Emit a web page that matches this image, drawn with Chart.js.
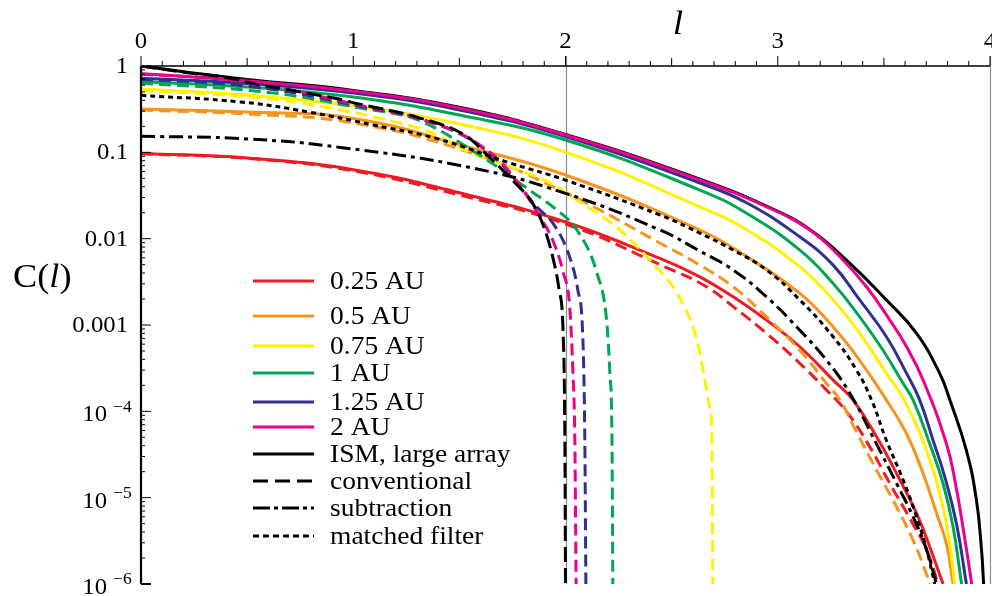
<!DOCTYPE html>
<html lang="en">
<head>
  <meta charset="UTF-8">
  <title>C(l) curves</title>
  <script src="https://cdn.jsdelivr.net/npm/chart.js"></script>
  <style>
    body { margin: 0; background: #fff; }
    canvas { display: block; }
  </style>
</head>
<body>
  <canvas id="curveChart" width="992" height="596"></canvas>

  <script>
    // axis ticks
    const xTicks = [0, 1, 2, 3, 4];
    const yTicks = [1, 0.1, 0.01, 0.001, 1e-4, 1e-5, 1e-6];
    const yTickLabels = ['1', '0.1', '0.01', '0.001', '10|−4', '10|−5', '10|−6'];
    const gridAt = [2, 4];

    // series, pairs of [l, C(l)]
    const ismLarge = [[0, 1.0], [0.2, 0.86], [0.5, 0.70], [1.0, 0.522], [1.5, 0.332], [2.0, 0.161], [2.633, 0.049], [2.947, 0.0238], [3.151, 0.0128], [3.34, 0.00518], [3.512, 0.00195], [3.654, 8.0e-4], [3.763, 2.75e-4], [3.811, 1.35e-4], [3.889, 3.5e-5], [3.936, 9.4e-6], [3.96, 2.5e-6], [3.97, 1e-6]];

    const au025 = [[0, 0.097], [0.5, 0.086], [1.0, 0.063], [1.5, 0.034], [2.0, 0.0156], [2.445, 0.0059], [2.633, 0.00361], [2.79, 0.00212], [2.947, 0.00114], [3.104, 5.6e-4], [3.261, 2.3e-4], [3.355, 1.35e-4], [3.465, 5.1e-5], [3.56, 1.9e-5], [3.654, 6.6e-6], [3.716, 2.7e-6], [3.779, 1e-6]];
    const au05 = [[0, 0.318], [0.5, 0.293], [1.0, 0.247], [1.56, 0.112], [2.0, 0.0546], [2.633, 0.0126], [2.855, 0.00617], [3.104, 0.00232], [3.261, 9.5e-4], [3.386, 3.9e-4], [3.512, 1.35e-4], [3.607, 5.5e-5], [3.685, 1.9e-5], [3.748, 6.6e-6], [3.795, 2.9e-6], [3.826, 1e-6]];
    const au075 = [[0, 0.54], [0.5, 0.461], [1.0, 0.344], [1.5, 0.213], [2.0, 0.1007], [2.633, 0.0234], [2.855, 0.0126], [3.104, 0.00472], [3.261, 0.00195], [3.386, 8.0e-4], [3.512, 2.75e-4], [3.596, 1.35e-4], [3.701, 3.5e-5], [3.763, 1.12e-5], [3.803, 3.85e-6], [3.834, 1e-6]];
    const au1 = [[0, 0.66], [0.5, 0.571], [1.0, 0.437], [1.5, 0.27], [2.0, 0.139], [2.633, 0.0366], [2.855, 0.0196], [3.104, 0.00738], [3.261, 0.00303], [3.386, 0.00124], [3.496, 5.1e-4], [3.591, 2.1e-4], [3.638, 1.35e-4], [3.716, 4.2e-5], [3.779, 1.46e-5], [3.826, 4.6e-6], [3.866, 1e-6]];
    const au125 = [[0, 0.72], [0.5, 0.627], [1.0, 0.486], [1.5, 0.31], [2.0, 0.152], [2.633, 0.0441], [2.855, 0.0259], [3.104, 0.0105], [3.261, 0.00494], [3.386, 0.00195], [3.512, 7.3e-4], [3.607, 2.75e-4], [3.669, 1.35e-4], [3.732, 4.6e-5], [3.787, 1.74e-5], [3.842, 5.0e-6], [3.889, 1e-6]];
    const au2 = [[0, 0.82], [0.5, 0.67], [1.0, 0.513], [1.5, 0.326], [2.0, 0.159], [2.633, 0.0478], [2.947, 0.0234], [3.151, 0.0126], [3.293, 0.00617], [3.418, 0.00277], [3.528, 0.00114], [3.607, 5.6e-4], [3.685, 2.3e-4], [3.795, 4.2e-5], [3.837, 1.47e-5], [3.877, 3.9e-6], [3.914, 1e-6]];

    const conv025 = [[0, 0.096], [0.5, 0.085], [1.0, 0.061], [1.5, 0.032], [2.0, 0.0148], [2.468, 0.00472], [2.665, 0.00277], [2.79, 0.00163], [2.947, 8.0e-4], [3.104, 3.6e-4], [3.23, 1.76e-4], [3.33, 9.5e-5], [3.433, 3.9e-5], [3.528, 1.46e-5], [3.618, 6.0e-6], [3.701, 2.5e-6], [3.755, 1e-6]];
    const conv05 = [[0, 0.309], [0.5, 0.278], [1.0, 0.219], [1.56, 0.098], [2.0, 0.034], [2.48, 0.008], [2.633, 0.00494], [2.79, 0.00277], [2.947, 0.00124], [3.104, 5.1e-4], [3.23, 2.1e-4], [3.293, 1.35e-4], [3.375, 5.5e-5], [3.465, 2.1e-5], [3.56, 7.8e-6], [3.638, 3.2e-6], [3.701, 1.3e-6], [3.716, 1e-6]];
    const conv075 = [[0, 0.52], [0.4, 0.46], [0.7, 0.39], [1.0, 0.29], [1.1, 0.256], [1.36, 0.172], [1.55, 0.10], [1.74, 0.0676], [1.93, 0.044], [2.054, 0.028], [2.256, 0.0126], [2.41, 0.0052], [2.525, 0.00234], [2.619, 6.7e-4], [2.68, 1.1e-4], [2.69, 4.7e-5], [2.694, 1e-6]];
    const conv1 = [[0, 0.63], [0.4, 0.55], [0.7, 0.46], [1.02, 0.33], [1.3, 0.24], [1.61, 0.088], [1.83, 0.0366], [1.96, 0.0214], [2.054, 0.0126], [2.148, 0.004], [2.195, 0.00105], [2.209, 2.8e-4], [2.219, 4.7e-5], [2.223, 1e-6]];
    const conv125 = [[0, 0.70], [0.4, 0.62], [0.7, 0.50], [1.02, 0.345], [1.3, 0.25], [1.55, 0.142], [1.7, 0.072], [1.865, 0.0232], [1.94, 0.0152], [2.02, 0.0061], [2.058, 0.00254], [2.082, 6.7e-4], [2.091, 4.7e-5], [2.096, 1e-6]];
    const conv2 = [[0, 0.80], [0.4, 0.70], [0.7, 0.53], [1.02, 0.355], [1.3, 0.25], [1.55, 0.143], [1.7, 0.075], [1.81, 0.0337], [1.88, 0.0178], [1.94, 0.0096], [1.99, 0.004], [2.02, 0.0016], [2.035, 2.8e-4], [2.044, 4.7e-5], [2.05, 1e-6]];
    const convBlack = [[0, 1.0], [0.22, 0.836], [0.415, 0.726], [0.555, 0.608], [0.683, 0.537], [0.81, 0.47], [0.91, 0.426], [1.02, 0.366], [1.3, 0.256], [1.54, 0.15], [1.64, 0.0883], [1.75, 0.0477], [1.85, 0.0245], [1.9, 0.0133], [1.94, 0.0061], [1.97, 0.00254], [1.99, 6.7e-4], [1.997, 4.7e-5], [2.0, 1e-6]];

    const subtraction = [[0, 0.154], [0.5, 0.143], [0.94, 0.114], [1.56, 0.066], [2.0, 0.0335], [2.445, 0.0126], [2.633, 0.00718], [2.79, 0.00433], [2.947, 0.00212], [3.104, 8.7e-4], [3.23, 3.9e-4], [3.34, 1.61e-4], [3.465, 4.2e-5], [3.56, 1.46e-5], [3.638, 6.0e-6], [3.701, 2.5e-6], [3.748, 1e-6]];
    const matched = [[0, 0.457], [0.47, 0.383], [0.79, 0.293], [1.1, 0.206], [1.39, 0.145], [1.74, 0.075], [2.0, 0.0477], [2.445, 0.0188], [2.633, 0.0116], [2.79, 0.00738], [2.947, 0.00433], [3.104, 0.00195], [3.261, 7.3e-4], [3.371, 3.0e-4], [3.442, 1.35e-4], [3.512, 4.6e-5], [3.591, 1.6e-5], [3.654, 6.0e-6], [3.701, 2.5e-6], [3.74, 1e-6]];

    const legendLabels = ['0.25 AU', '0.5 AU', '0.75 AU', '1 AU', '1.25 AU', '2 AU', 'ISM, large array', 'conventional', 'subtraction', 'matched filter'];

    const RED = '#ED1C24', ORANGE = '#F7941D', YELLOW = '#FFF200', GREEN = '#00A651', BLUE = '#2E3192', MAGENTA = '#EC008C', BLACK = '#000000';
    const DASH = [12, 6], DASH_BLACK = [15, 6], DASH_DOT = [14, 5, 4, 5], DOTS = [5, 4];
    const SERIF = '"Liberation Serif", "Times New Roman", serif';

    // steep conventional curves keep monotone interpolation, the rest use a softer spline
    function line(label, pairs, color, dash, steep) {
      const ds = {
        label: label,
        data: pairs.map(p => ({ x: p[0], y: p[1] })),
        borderColor: color,
        borderWidth: 3,
        borderDash: dash || [],
        pointRadius: 0,
        fill: false
      };
      if (steep) ds.cubicInterpolationMode = 'monotone';
      else ds.tension = 0.45;
      return ds;
    }

    // first dataset is drawn on top
    const datasets = [
      line('matched filter', matched, BLACK, DOTS),
      line('subtraction', subtraction, BLACK, DASH_DOT),
      line('conventional', convBlack, BLACK, DASH_BLACK, true),
      line('2 AU conv', conv2, MAGENTA, DASH, true),
      line('1.25 AU conv', conv125, BLUE, DASH, true),
      line('1 AU conv', conv1, GREEN, DASH, true),
      line('0.75 AU conv', conv075, YELLOW, DASH, true),
      line('0.5 AU conv', conv05, ORANGE, DASH),
      line('0.25 AU conv', conv025, RED, DASH),
      line('2 AU', au2, MAGENTA),
      line('1.25 AU', au125, BLUE),
      line('1 AU', au1, GREEN),
      line('0.75 AU', au075, YELLOW),
      line('0.5 AU', au05, ORANGE),
      line('0.25 AU', au025, RED),
      line('ISM, large array', ismLarge, BLACK)
    ];

    const legendStyles = [
      [RED, []], [ORANGE, []], [YELLOW, []], [GREEN, []], [BLUE, []], [MAGENTA, []],
      [BLACK, []], [BLACK, [15, 7]], [BLACK, [17, 4, 4, 4]], [BLACK, [6, 4]]
    ];
    const legendRows = [281, 316, 346, 373, 402, 427, 454, 481, 508, 536];

    // text is a little wider than plain Times in the original
    function stretchText(ctx, str, x, y, font, align) {
      ctx.save();
      ctx.font = font;
      ctx.textAlign = align;
      ctx.textBaseline = 'middle';
      ctx.fillStyle = '#000';
      ctx.translate(x, y);
      ctx.scale(1.1, 1);
      ctx.fillText(str, 0, 0);
      const w = ctx.measureText(str).width * 1.1;
      ctx.restore();
      return w;
    }

    const framePlugin = {
      id: 'frame',
      beforeDatasetsDraw(chart) {
        const { ctx, chartArea: a, scales: { x } } = chart;
        ctx.save();
        ctx.strokeStyle = '#8c8c8c';
        ctx.lineWidth = 1.2;
        gridAt.forEach(v => {
          const px = Math.round(x.getPixelForValue(v)) + 0.5;
          ctx.beginPath();
          ctx.moveTo(px, a.top - 10);
          ctx.lineTo(px, a.bottom);
          ctx.stroke();
        });
        ctx.restore();
      },
      afterDraw(chart) {
        const { ctx, chartArea: a, scales: { x, y } } = chart;
        ctx.save();
        ctx.strokeStyle = '#000';

        // top axis with ticks pointing out
        ctx.lineWidth = 1.5;
        ctx.beginPath();
        ctx.moveTo(a.left, a.top);
        ctx.lineTo(a.right, a.top);
        ctx.stroke();
        ctx.lineWidth = 1;
        for (let i = 0; i <= 40; i++) {
          const px = x.getPixelForValue(i / 10);
          const len = i % 10 === 0 ? 10 : (i % 5 === 0 ? 8 : 5);
          ctx.beginPath();
          ctx.moveTo(px, a.top);
          ctx.lineTo(px, a.top - len);
          ctx.stroke();
        }

        // left axis with log ticks pointing in
        ctx.lineWidth = 2.2;
        ctx.beginPath();
        ctx.moveTo(a.left, a.top);
        ctx.lineTo(a.left, a.bottom);
        ctx.stroke();
        for (let e = -6; e <= 0; e++) {
          const py = y.getPixelForValue(Math.pow(10, e));
          ctx.lineWidth = e === -6 ? 2 : 1;
          ctx.beginPath();
          ctx.moveTo(a.left, py);
          ctx.lineTo(a.left + 10, py);
          ctx.stroke();
          ctx.lineWidth = 1;
          if (e === 0) continue;
          for (let k = 2; k <= 9; k++) {
            const pk = y.getPixelForValue(k * Math.pow(10, e));
            ctx.beginPath();
            ctx.moveTo(a.left, pk);
            ctx.lineTo(a.left + 4, pk);
            ctx.stroke();
          }
        }
        ctx.restore();

        // tick labels
        const tickFont = '22.5px ' + SERIF;
        xTicks.forEach(v => stretchText(ctx, String(v), x.getPixelForValue(v), 42, tickFont, 'center'));
        yTicks.forEach((v, i) => {
          const py = y.getPixelForValue(v);
          const parts = yTickLabels[i].split('|');
          if (parts.length === 1) {
            stretchText(ctx, parts[0], a.left - 13, py + 1, tickFont, 'right');
          } else {
            stretchText(ctx, parts[0], a.left - 34, py + 4, tickFont, 'right');
            stretchText(ctx, parts[1], a.left - 28, py - 4, '16px ' + SERIF, 'left');
          }
        });

        // axis titles
        stretchText(ctx, 'l', 678, 25, 'italic 34px ' + SERIF, 'center');
        let tx = 13;
        tx += stretchText(ctx, 'C(', tx, 278, '33px ' + SERIF, 'left');
        tx += stretchText(ctx, 'l', tx, 278, 'italic 33px ' + SERIF, 'left');
        stretchText(ctx, ')', tx, 278, '33px ' + SERIF, 'left');

        // legend
        legendLabels.forEach((label, i) => {
          const ly = legendRows[i];
          ctx.save();
          ctx.strokeStyle = legendStyles[i][0];
          ctx.setLineDash(legendStyles[i][1]);
          ctx.lineWidth = 3;
          ctx.beginPath();
          ctx.moveTo(253, ly);
          ctx.lineTo(314, ly);
          ctx.stroke();
          ctx.restore();
          stretchText(ctx, label, 330, ly + 1, '25px ' + SERIF, 'left');
        });
      }
    };

    new Chart(document.getElementById('curveChart'), {
      type: 'line',
      data: { datasets: datasets },
      options: {
        responsive: false,
        animation: false,
        layout: { padding: { left: 141, top: 66, right: 2, bottom: 12 } },
        plugins: { legend: { display: false }, tooltip: { enabled: false } },
        scales: {
          x: { type: 'linear', min: 0, max: 4, display: false },
          y: { type: 'logarithmic', min: 1e-6, max: 1, display: false }
        }
      },
      plugins: [framePlugin]
    });
  </script>
</body>
</html>
